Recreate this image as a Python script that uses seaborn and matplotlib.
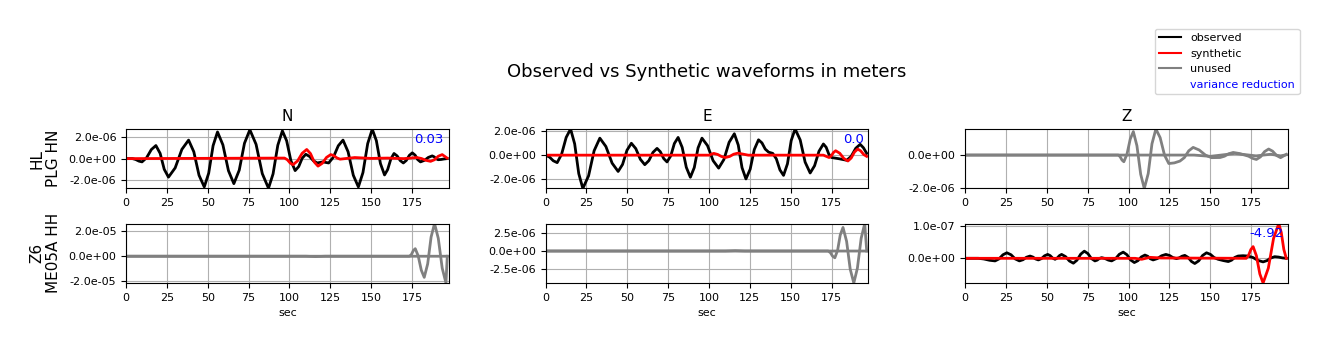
import numpy as np
import matplotlib
matplotlib.use("Agg")
import matplotlib.pyplot as plt
import seaborn as sns
from matplotlib.lines import Line2D

# =========================
# Data (time in sec, amplitude in the unit given)
# =========================
components = ["N", "E", "Z"]
stations = ["HL\nPLG HN", "Z6\nME05A HH"]
var_red = {(0, 0): "0.03", (0, 1): "0.0", (1, 2): "-4.92"}

# PLG N  (1e-6 m)
plg_n_obs_t = [0, 4, 5.9, 7.9, 9.8, 12.6, 15.5, 18.3, 20.9, 23.4, 26, 30.1, 34.2, 38.3, 41.5,
               44.7, 47.9, 50.6, 53.3, 56, 59.3, 62.7, 66, 69.3, 72.5, 75.8, 79.6, 83.4, 87.2,
               90.0, 92.9, 95.7, 98.3, 100.9, 103.5, 105.7, 107.8, 110, 112.3, 114.7, 117,
               120.5, 124, 126.9, 129.9, 132.8, 135.9, 139.1, 142.2, 145.0, 147.9, 150.7,
               153.2, 155.7, 158.2, 160.1, 162.1, 164, 165.9, 167.8, 169.7, 171.5, 173.4,
               175.2, 176.9, 178.5, 180.2, 182.6, 185, 187.4, 188.6, 189.8, 191, 192.8,
               194.7, 196.5]
plg_n_obs = [0, 0, -0.08, -0.23, -0.3, 0.08, 0.83, 1.2, 0.48, -0.98, -1.7, -0.85, 0.85, 1.7,
             0.63, -1.53, -2.6, -1.34, 1.19, 2.45, 1.26, -1.11, -2.3, -1.06, 1.41, 2.65, 1.31,
             -1.38, -2.72, -1.40, 1.23, 2.55, 1.64, -0.19, -1.1, -0.73, 0.03, 0.4, 0.2, -0.2,
             -0.4, -0.3, -0.4, 0.13, 1.18, 1.7, 0.63, -1.53, -2.6, -1.28, 1.38, 2.7, 1.65,
             -0.45, -1.5, -1.01, -0.02, 0.47, 0.25, -0.18, -0.4, -0.17, 0.30, 0.53, 0.32,
             -0.09, -0.3, -0.16, 0.11, 0.25, 0.16, -0.01, -0.1, -0.08, -0.03, 0]
plg_n_syn_t = [0, 97, 98.7, 100.5, 102.2, 105.0, 107.8, 110.6, 112.9, 115.2, 117.5, 120.1,
               122.7, 125.3, 127.2, 129.1, 131, 140, 150, 160, 170, 178, 180.8, 183.6, 186.4,
               188.8, 191.1, 193.5, 196.5]
plg_n_syn = [0, 0.05, -0.10, -0.41, -0.56, -0.21, 0.49, 0.84, 0.46, -0.31, -0.69, -0.43, 0.11,
             0.37, 0.27, 0.06, -0.05, 0.1, 0.02, 0.05, 0, 0.1, 0.01, -0.16, -0.25, -0.10,
             0.22, 0.37, 0.05]

# PLG E  (1e-6 m)
plg_e_obs_t = [0, 2.4, 4.7, 7.1, 9.8, 12.6, 15.3, 17.8, 20.3, 22.8, 26.3, 29.7, 33.2, 36.9,
               40.7, 44.4, 47.1, 49.8, 52.5, 55.2, 58.0, 60.7, 63.2, 65.7, 68.2, 70.2, 72.3,
               74.3, 76.6, 78.8, 81.1, 83.6, 86.1, 88.6, 91.0, 93.3, 95.7, 99.1, 102.5, 105.9,
               109.1, 112.3, 115.5, 117.9, 120.2, 122.6, 125.2, 127.7, 130.3, 132.4, 134.4,
               136.5, 139, 141.2, 143.4, 145.6, 148.0, 150.3, 152.7, 155.8, 158.8, 161.9,
               164.6, 167.3, 170, 171.7, 173.3, 175, 179.5, 184.3, 187.0, 189.8, 192.5,
               194.5, 196.5]
plg_e_obs = [0, -0.16, -0.47, -0.63, 0.08, 1.49, 2.2, 0.95, -1.55, -2.8, -1.74, 0.37, 1.43,
             0.73, -0.67, -1.37, -0.78, 0.41, 1.0, 0.55, -0.35, -0.8, -0.46, 0.23, 0.57, 0.29,
             -0.29, -0.57, -0.06, 0.98, 1.49, 0.65, -1.02, -1.86, -1.04, 0.61, 1.43, 0.80,
             -0.46, -1.09, -0.37, 1.08, 1.8, 0.85, -1.05, -2.0, -1.18, 0.47, 1.29, 1.03, 0.51,
             0.25, 0.15, -0.31, -1.24, -1.7, -0.73, 1.23, 2.2, 1.28, -0.58, -1.5, -0.89, 0.33,
             0.94, 0.66, 0.09, -0.2, -0.3, -0.43, -0.10, 0.58, 0.91, 0.62, 0.15]
plg_e_syn_t = [0, 100, 102.9, 105.3, 107.6, 110, 112.6, 115.1, 117.7, 124, 170, 173.5, 174.8,
               176.2, 177.5, 180.0, 182.5, 185, 187, 189, 191, 192.8, 194.7, 196.5]
plg_e_syn = [0, 0, 0.15, 0.06, -0.11, -0.2, -0.11, 0.08, 0.17, 0, 0, -0.2, -0.06, 0.23, 0.37,
             0.16, -0.28, -0.49, -0.24, 0.26, 0.51, 0.36, 0.05, -0.1]

# PLG Z  (1e-6 m), unused
plg_z_obs_t = [0, 93.7, 94.8, 96.0, 97.1, 99.0, 101.0, 102.9, 105.1, 107.4, 109.6, 112.0,
               114.3, 116.7, 119.3, 122.0, 124.6, 128, 131.4, 134.1, 136.8, 139.5, 143.2,
               147.0, 150.7, 156, 158.7, 161.3, 164, 167.5, 171, 173.4, 175.8, 178.2, 180.7,
               183.2, 185.7, 188.1, 190.6, 193, 196.5]
plg_z_obs = [0, 0, -0.10, -0.31, -0.41, 0.05, 0.98, 1.44, 0.57, -1.18, -2.05, -1.14, 0.69,
             1.6, 1.07, -0.01, -0.52, -0.48, -0.37, -0.16, 0.26, 0.47, 0.31, 0.0, -0.16,
             -0.15, -0.07, 0.08, 0.16, 0.1, 0, -0.07, -0.20, -0.27, -0.11, 0.21, 0.37, 0.24,
             -0.03, -0.16, 0.04]
plg_z_syn_t = [0, 140, 150, 165, 178, 187, 193, 196.5]
plg_z_syn = [0, 0, -0.08, 0.1, -0.05, 0.05, -0.05, 0.02]

# ME05A N  (1e-5 m), unused
me_n_obs_t = [0, 173.5, 174.7, 175.8, 177, 178.8, 180.7, 182.5, 184.6, 186.7, 188.8, 191.1,
              193.5, 195.8, 196.6]
me_n_obs = [0, 0, 0.15, 0.45, 0.6, 0.03, -1.11, -1.68, -0.61, 1.53, 2.6, 1.42, -0.95, -2.13, 0]
me_n_syn_t = [0, 110, 116, 122, 196.6]
me_n_syn = [0, 0, -0.03, 0, 0]

# ME05A E  (1e-6 m), unused
me_e_obs_t = [0, 172.9, 174.3, 175.6, 177, 178.7, 180.3, 182, 184.2, 186.4, 188.6, 190.8,
              193.1, 195.3, 196.5]
me_e_obs = [0, 0, -0.23, -0.70, -0.93, 0.11, 2.20, 3.24, 1.33, -2.49, -4.4, -2.36, 1.74, 3.78, 0]
me_e_syn_t = [0, 110, 116, 122, 196.5]
me_e_syn = [0, 0, 0.05, 0, 0]

# ME05A Z  (1e-8 m)
me_z_obs_t = [0, 8, 11.4, 14.9, 18.3, 20.7, 23.1, 25.5, 28.1, 30.6, 33.2, 35.4, 37.5, 39.7,
              41.4, 43.1, 44.8, 46.7, 48.6, 50.5, 52.0, 53.5, 55, 56.3, 57.7, 59, 61.4, 63.8,
              66.2, 68.4, 70.7, 72.9, 75.1, 77.2, 79.4, 80.8, 82.1, 83.5, 85.5, 87.6, 89.6,
              92.0, 94.3, 96.7, 99.0, 101.2, 103.5, 105.7, 107.8, 110, 111.7, 113.3, 115,
              117.6, 120.2, 122.8, 125.0, 127.1, 129.3, 131.0, 132.7, 134.4, 136.4, 138.5,
              140.5, 142.9, 145.3, 147.7, 150.1, 152.4, 154.8, 158, 161, 163, 165, 167, 170,
              173, 176.1, 179.2, 182.3, 184.7, 187.0, 189.4, 191.8, 194.1, 196.5]
me_z_obs = [0, 0, -0.2, -0.6, -0.8, -0.18, 1.08, 1.7, 1.08, -0.18, -0.8, -0.43, 0.33, 0.7,
            0.4, -0.2, -0.5, -0.08, 0.78, 1.2, 0.83, 0.08, -0.3, 0.08, 0.83, 1.2, 0.53, -0.83,
            -1.5, -0.58, 1.28, 2.2, 1.45, -0.05, -0.8, -0.55, -0.05, 0.2, -0.05, -0.55, -0.8,
            -0.13, 1.23, 1.9, 1.1, -0.5, -1.3, -0.73, 0.43, 1.0, 0.63, -0.13, -0.5, -0.08,
            0.78, 1.2, 0.88, 0.23, -0.1, 0.15, 0.65, 0.9, 0.28, -0.98, -1.6, -0.78, 0.88, 1.7,
            1.2, 0.2, -0.3, -0.7, -1.0, -0.58, 0.28, 0.7, 0.8, 0.7, 0.25, -0.65, -1.1, -0.7,
            0.1, 0.5, 0.38, 0.13, 0]
me_z_syn_t = [0, 104, 108, 113, 120, 172, 173.4, 174.8, 176.2, 178.2, 180.3, 182.3, 185.5,
              188.7, 191.9, 193.4, 195.0, 196.5]
me_z_syn = [0, 0, -0.3, 0.3, 0.1, 0, 0.9, 2.7, 3.6, 0.8, -4.8, -7.6, -3.03, 6.13, 10.7, 8.0,
            2.7, 0]

traces = {
    (0, 0): (plg_n_obs_t, plg_n_obs, plg_n_syn_t, plg_n_syn, 1e-6, True),
    (0, 1): (plg_e_obs_t, plg_e_obs, plg_e_syn_t, plg_e_syn, 1e-6, True),
    (0, 2): (plg_z_obs_t, plg_z_obs, plg_z_syn_t, plg_z_syn, 1e-6, False),
    (1, 0): (me_n_obs_t, me_n_obs, me_n_syn_t, me_n_syn, 1e-5, False),
    (1, 1): (me_e_obs_t, me_e_obs, me_e_syn_t, me_e_syn, 1e-6, False),
    (1, 2): (me_z_obs_t, me_z_obs, me_z_syn_t, me_z_syn, 1e-8, True),
}

# axis layout
ylims = {(0, 0): (-2.74e-6, 2.72e-6), (0, 1): (-2.8e-6, 2.2e-6), (0, 2): (-2.05e-6, 1.6e-6),
         (1, 0): (-2.13e-5, 2.6e-5), (1, 1): (-4.4e-6, 3.78e-6), (1, 2): (-7.6e-8, 1.07e-7)}
yticks = {(0, 0): [-2e-6, 0, 2e-6], (0, 1): [-2e-6, 0, 2e-6], (0, 2): [-2e-6, 0],
          (1, 0): [-2e-5, 0, 2e-5], (1, 1): [-2.5e-6, 0, 2.5e-6], (1, 2): [0, 1e-7]}

# =========================
# Plot
# =========================
fig, axes = plt.subplots(2, 3, figsize=(13.29, 3.51), dpi=100)
fig.subplots_adjust(left=0.0948, right=0.9691, bottom=0.1937, top=0.6325,
                    wspace=0.30, hspace=0.59)

for (r, c), (ot, ov, st, sv, scale, used) in traces.items():
    ax = axes[r, c]
    obs_color = "black" if used else "gray"
    syn_color = "red" if used else "gray"
    sns.lineplot(x=ot, y=np.array(ov) * scale, ax=ax, color=obs_color, linewidth=2,
                 sort=False, estimator=None, solid_joinstyle="round")
    sns.lineplot(x=st, y=np.array(sv) * scale, ax=ax, color=syn_color, linewidth=2,
                 sort=False, estimator=None, solid_joinstyle="round")
    ax.set_xlim(0, 197.5)
    ax.set_ylim(*ylims[(r, c)])
    ax.set_yticks(yticks[(r, c)])
    ax.set_xticks(np.arange(0, 176, 25))
    ax.yaxis.set_major_formatter(plt.FormatStrFormatter("%.1e"))
    ax.tick_params(labelsize=8)
    ax.grid(True)
    ax.set_ylabel("")
    if r == 0:
        ax.set_title(components[c], fontsize=11)
    else:
        ax.set_xlabel("sec", fontsize=8)
    if c == 0:
        ax.set_ylabel(stations[r], fontsize=11, labelpad=5)
    if (r, c) in var_red:
        ax.text(0.985, 0.94, var_red[(r, c)], transform=ax.transAxes, ha="right", va="top",
                color="blue", fontsize=9.5)

fig.suptitle("Observed vs Synthetic waveforms in meters", fontsize=13, x=0.532, y=0.795,
             va="center")

handles = [Line2D([], [], color="black", lw=1.5),
           Line2D([], [], color="red", lw=1.5),
           Line2D([], [], color="gray", lw=1.5),
           Line2D([], [], color="none")]
labels = ["observed", "synthetic", "unused", "variance reduction"]
leg = fig.legend(handles, labels, loc="upper right", bbox_to_anchor=(0.982, 0.934), fontsize=8)
leg.get_texts()[3].set_color("blue")

plt.savefig("out.png", dpi=100)
